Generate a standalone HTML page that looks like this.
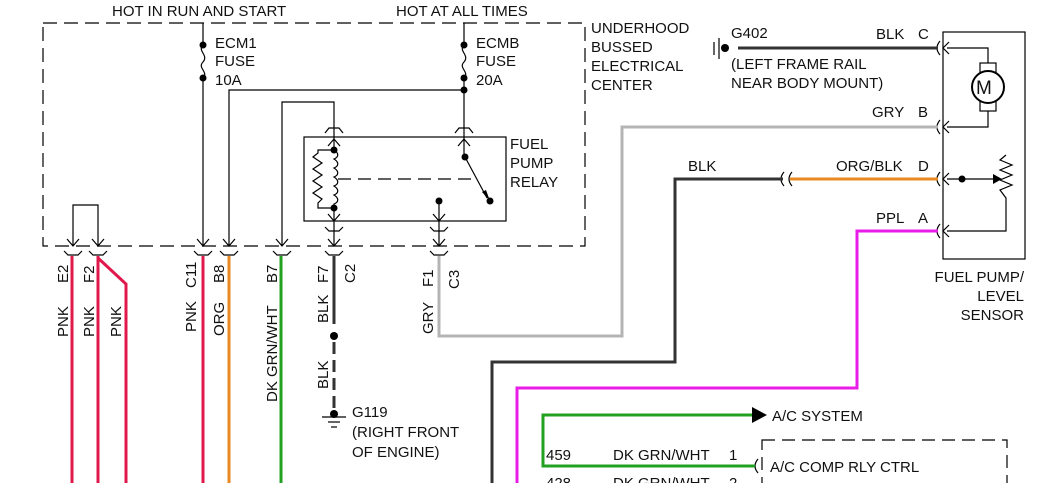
<!DOCTYPE html>
<html><head><meta charset="utf-8"><style>
html,body{margin:0;padding:0;background:#fff;}
svg{display:block;}
text{font-family:"Liberation Sans",sans-serif;font-size:15px;fill:#111;}
</style></head><body>
<svg width="1056" height="483" viewBox="0 0 1056 483" xmlns="http://www.w3.org/2000/svg">
<g fill="none" stroke="#000" stroke-width="1.2">
<rect x="43" y="23" width="542" height="223" stroke-dasharray="14,7"/>
<line x1="203" y1="23" x2="203" y2="45"/>
<path d="M203,45 c-6,6 6,10 0,17 c-6,6 6,10 0,16"/>
<line x1="203" y1="78" x2="203" y2="246"/>
<line x1="464" y1="23" x2="464" y2="45"/>
<path d="M464,45 c-6,6 6,10 0,17 c-6,6 6,10 0,16"/>
<line x1="464" y1="78" x2="464" y2="130"/>
<polyline points="229,246 229,90 464,90"/>
<polyline points="282,246 282,102 334,102 334,130"/>
<polyline points="73,246 73,205 98,205 98,246"/>
<rect x="304" y="137" width="202" height="84"/>
<line x1="334" y1="130" x2="334" y2="150"/>
<path d="M334,150 c5,3 5,7 0,9 c5,3 5,7 0,9 c5,3 5,7 0,9 c5,3 5,7 0,9 c5,3 5,7 0,9 c5,3 5,7 0,9 l0,4"/>
<polyline points="334,150 318,150 318,153 313,157 322,163 313,169 322,175 313,181 322,187 313,193 322,199 318,203 318,208 334,208"/>
<line x1="334" y1="208" x2="334" y2="246"/>
<line x1="338" y1="179" x2="476" y2="179" stroke-dasharray="13,7"/>
<line x1="464" y1="130" x2="464" y2="157"/>
<line x1="465" y1="157" x2="487" y2="198"/>
<line x1="439" y1="201" x2="439" y2="246"/>
<polyline points="325,133 329,128 339,128 343,133"/>
<polyline points="455,133 459,128 469,128 473,133"/>
<polyline points="328,146 334,139 340,146"/>
<polyline points="458,146 464,139 470,146"/>
<polyline points="328,214 334,221 340,214"/>
<polyline points="433,214 439,221 445,214"/>
<polyline points="325,227 329,231 339,231 343,227"/>
<polyline points="430,227 434,231 444,231 448,227"/>
<polyline points="67,239 73,246 79,239"/><polyline points="92,239 98,246 104,239"/>
<polyline points="197,239 203,246 209,239"/><polyline points="223,239 229,246 235,239"/>
<polyline points="276,239 282,246 288,239"/><polyline points="328,239 334,246 340,239"/>
<polyline points="433,239 439,246 445,239"/>
<polyline points="64,251 68,255 78,255 82,251"/><polyline points="89,251 93,255 103,255 107,251"/>
<polyline points="194,251 198,255 208,255 212,251"/><polyline points="220,251 224,255 234,255 238,251"/>
<polyline points="273,251 277,255 287,255 291,251"/><polyline points="325,251 329,255 339,255 343,251"/>
<polyline points="430,251 434,255 444,255 448,251"/>
<line x1="322" y1="417" x2="346" y2="417"/><line x1="328" y1="422" x2="340" y2="422"/><line x1="331" y1="427" x2="337" y2="427"/>
<line x1="714" y1="42" x2="714" y2="55"/><line x1="719" y1="38" x2="719" y2="59"/>
<rect x="943" y="32" width="82" height="227"/>
<polyline points="947,48 988,48 988,63"/>
<polyline points="988,111 988,127 947,127"/>
<rect x="980" y="63" width="16" height="48"/>
<circle cx="988" cy="87" r="16" fill="#fff" stroke-width="2"/>
<line x1="947" y1="179" x2="997" y2="179"/>
<polyline points="1006,155 1000,160 1012,165 1000,170 1012,175 1000,180 1012,185 1000,190 1006,198 1006,231 947,231"/>
<polyline points="949,42 943,48 949,54"/><polyline points="949,121 943,127 949,133"/>
<polyline points="949,173 943,179 949,185"/><polyline points="949,225 943,231 949,237"/>
<path d="M940,41 q-6,7 0,14 M940,120 q-6,7 0,14 M940,172 q-6,7 0,14 M940,224 q-6,7 0,14"/>
<path d="M784,172 q-6,7 0,14 M792,172 q-6,7 0,14"/>
<path d="M758,459 q-6,7 0,14"/>
<rect x="762" y="440" width="245" height="60" stroke-dasharray="13,7"/>
</g>
<g fill="#000">
<circle cx="203" cy="45" r="3.5"/><circle cx="203" cy="78" r="3.5"/>
<circle cx="464" cy="45" r="3.5"/><circle cx="464" cy="78" r="3.5"/><circle cx="464" cy="90" r="3.5"/>
<circle cx="334" cy="150" r="3.5"/><circle cx="334" cy="208" r="3.5"/>
<circle cx="465" cy="157" r="3.5"/><circle cx="490" cy="201" r="3.5"/><circle cx="439" cy="201" r="3.5"/>
<polygon points="482,192 490,201 486,190"/>
<circle cx="334" cy="336" r="4"/><circle cx="334" cy="414" r="4"/>
<circle cx="725" cy="48" r="4"/>
<circle cx="962" cy="179" r="3.5"/>
<polygon points="993,174 1002,179 993,184"/>
<polygon points="752,407 767,415 752,423"/>
</g>
<g fill="none" stroke-width="3">
<line x1="72" y1="256" x2="72" y2="483" stroke="#e0184c"/>
<polyline points="98,256 98,483" stroke="#e0184c"/>
<polyline points="98,258 126,284 126,483" stroke="#e0184c"/>
<line x1="203" y1="256" x2="203" y2="483" stroke="#e0184c"/>
<line x1="229" y1="256" x2="229" y2="483" stroke="#e88a20"/>
<line x1="281" y1="256" x2="281" y2="483" stroke="#22a022"/>
<line x1="334" y1="256" x2="334" y2="324" stroke="#333"/>
<line x1="334" y1="342" x2="334" y2="410" stroke="#333" stroke-dasharray="12,6"/>
<polyline points="439,256 439,336 622,336 622,127 938,127" stroke="#b4b4b4"/>
<line x1="738" y1="48" x2="938" y2="48" stroke="#333"/>
<polyline points="783,179 675,179 675,362 492,362 492,483" stroke="#333"/>
<line x1="790" y1="179" x2="938" y2="179" stroke="#e88a20"/>
<polyline points="938,231 857,231 857,388 517,388 517,483" stroke="#e81ee8"/>
<polyline points="752,415 543,415 543,466 755,466" stroke="#22a022"/>
</g>
<text x="112" y="16">HOT IN RUN AND START</text>
<text x="396" y="16">HOT AT ALL TIMES</text>
<text x="215" y="48">ECM1</text><text x="215" y="66">FUSE</text><text x="215" y="85">10A</text>
<text x="476" y="48">ECMB</text><text x="476" y="66">FUSE</text><text x="476" y="85">20A</text>
<text x="591" y="33">UNDERHOOD</text><text x="591" y="52">BUSSED</text><text x="591" y="71">ELECTRICAL</text><text x="591" y="90">CENTER</text>
<text x="510" y="149">FUEL</text><text x="510" y="168">PUMP</text><text x="510" y="187">RELAY</text>
<text x="731" y="38">G402</text>
<text x="731" y="69">(LEFT FRAME RAIL</text><text x="731" y="88">NEAR BODY MOUNT)</text>
<text x="876" y="39">BLK</text><text x="918" y="39">C</text>
<text x="872" y="117">GRY</text><text x="918" y="117">B</text>
<text x="688" y="171">BLK</text>
<text x="836" y="171">ORG/BLK</text><text x="918" y="171">D</text>
<text x="876" y="223">PPL</text><text x="918" y="223">A</text>
<text x="1024" y="282" text-anchor="end">FUEL PUMP/</text>
<text x="1024" y="301" text-anchor="end">LEVEL</text>
<text x="1024" y="320" text-anchor="end">SENSOR</text>
<text x="352" y="417">G119</text><text x="352" y="437">(RIGHT FRONT</text><text x="352" y="457">OF ENGINE)</text>
<text x="772" y="421">A/C SYSTEM</text>
<text x="546" y="460">459</text><text x="613" y="460">DK GRN/WHT</text><text x="729" y="460">1</text>
<text x="770" y="472">A/C COMP RLY CTRL</text>
<text x="546" y="488">428</text><text x="613" y="488">DK GRN/WHT</text><text x="729" y="488">2</text>
<g>
<text transform="translate(68,283) rotate(-90)">E2</text>
<text transform="translate(68,337) rotate(-90)">PNK</text>
<text transform="translate(94,283) rotate(-90)">F2</text>
<text transform="translate(94,337) rotate(-90)">PNK</text>
<text transform="translate(121,337) rotate(-90)">PNK</text>
<text transform="translate(196,288) rotate(-90)">C11</text>
<text transform="translate(196,332) rotate(-90)">PNK</text>
<text transform="translate(224,283) rotate(-90)">B8</text>
<text transform="translate(224,336) rotate(-90)">ORG</text>
<text transform="translate(277,283) rotate(-90)">B7</text>
<text transform="translate(277,402) rotate(-90)">DK GRN/WHT</text>
<text transform="translate(328,283) rotate(-90)">F7</text>
<text transform="translate(355,283) rotate(-90)">C2</text>
<text transform="translate(328,323) rotate(-90)">BLK</text>
<text transform="translate(328,389) rotate(-90)">BLK</text>
<text transform="translate(433,287) rotate(-90)">F1</text>
<text transform="translate(459,289) rotate(-90)">C3</text>
<text transform="translate(433,334) rotate(-90)">GRY</text>
</g>
<text x="976" y="94" style="font-size:19px">M</text>
</svg>
</body></html>
